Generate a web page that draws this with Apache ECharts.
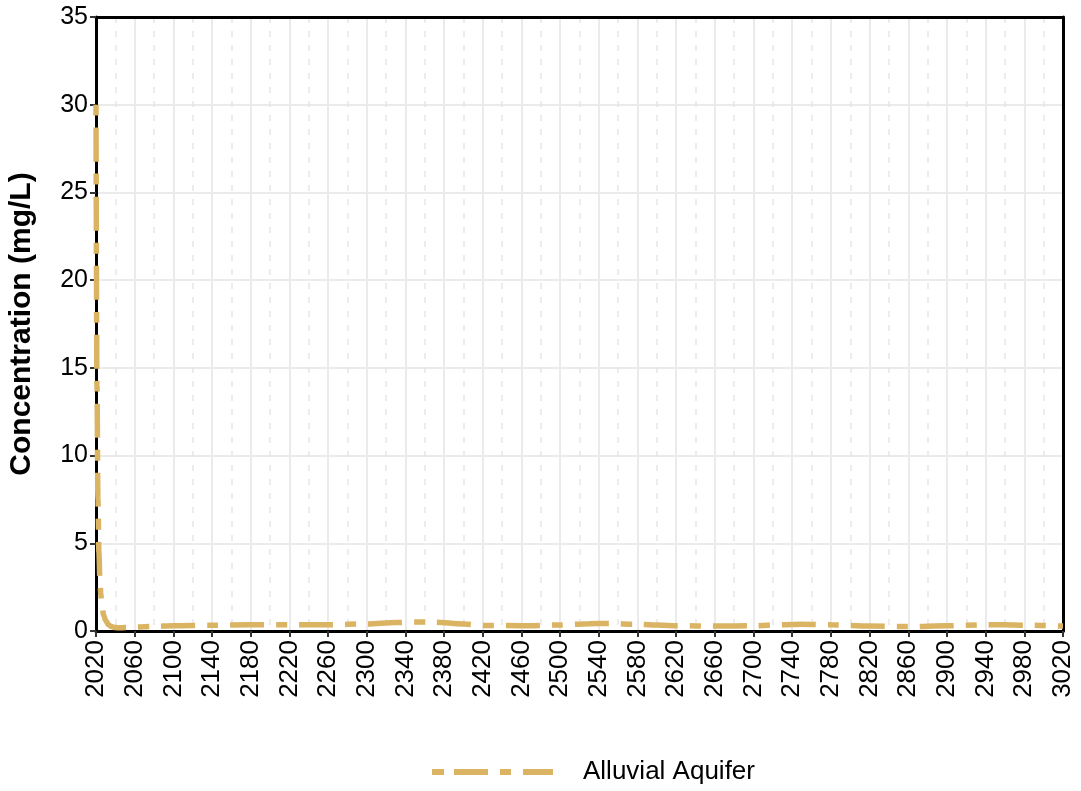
<!DOCTYPE html>
<html>
<head>
<meta charset="utf-8">
<script src="https://cdn.jsdelivr.net/npm/echarts@6/dist/echarts.min.js"></script>
<style>
html,body{margin:0;padding:0;background:#fff;}
#c{width:1081px;height:791px;}
</style>
</head>
<body>
<div id="c"></div>
<script>
const seriesName = 'Alluvial Aquifer';
const years = [2020, 2021, 2022, 2023, 2024, 2025, 2026, 2028, 2030, 2033, 2036, 2040, 2045, 2050, 2060, 2080, 2100, 2140, 2180, 2220, 2260, 2300, 2330, 2350, 2370, 2400, 2420, 2460, 2500, 2530, 2550, 2580, 2620, 2660, 2700, 2730, 2750, 2780, 2820, 2860, 2900, 2940, 2960, 2980, 3020];
const values = [30, 14, 7.5, 4.5, 3.0, 2.1, 1.5, 0.9, 0.6, 0.35, 0.25, 0.2, 0.18, 0.2, 0.22, 0.26, 0.3, 0.33, 0.35, 0.35, 0.36, 0.4, 0.48, 0.52, 0.5, 0.4, 0.32, 0.3, 0.34, 0.42, 0.43, 0.38, 0.3, 0.28, 0.3, 0.36, 0.38, 0.35, 0.28, 0.25, 0.3, 0.35, 0.36, 0.33, 0.28];
const yTitle = 'Concentration (mg/L)';

const font = 'Liberation Sans, Arial, Helvetica, sans-serif';
const lineColor = '#DAB463';
const frame = {show: true, onZero: false, lineStyle: {color: '#000', width: 3}};
const chart = echarts.init(document.getElementById('c'), null, {renderer: 'canvas'});
chart.setOption({
  animation: false,
  backgroundColor: '#ffffff',
  grid: {left: 96, right: 18, top: 17, bottom: 160, containLabel: false, outerBoundsMode: 'none'},
  legend: {
    left: 432, top: 759, padding: 0,
    itemWidth: 121, itemHeight: 6,
    data: [{name: seriesName, icon: 'path://M0 0H12V6H0Z M22 0H56V6H22Z M68 0H79V6H68Z M91 0H121V6H91Z'}],
    itemStyle: {color: lineColor},
    textStyle: {fontFamily: font, fontSize: 26, color: '#000', padding: [0, 0, 0, 25]}
  },
  xAxis: [{
    type: 'value', min: 2020, max: 3020, interval: 40,
    axisLine: frame,
    axisTick: {show: true, length: 6, lineStyle: {color: '#333', width: 2}},
    axisLabel: {rotate: 90, fontFamily: font, fontSize: 26, color: '#000', margin: 9, formatter: v => String(v)},
    splitLine: {show: true, lineStyle: {color: '#ebebeb', width: 2}},
    minorTick: {show: false, splitNumber: 2},
    minorSplitLine: {show: true, lineStyle: {color: '#e6e6e6', width: 1.5, type: [6, 8]}}
  }, {
    type: 'value', min: 2020, max: 3020, interval: 40, position: 'top',
    axisLine: frame, axisTick: {show: false}, axisLabel: {show: false}, splitLine: {show: false}
  }],
  yAxis: [{
    type: 'value', min: 0, max: 35, interval: 5,
    name: yTitle, nameLocation: 'middle', nameGap: 59,
    nameTextStyle: {fontFamily: font, fontSize: 30, fontWeight: 'bold', color: '#000'},
    axisLine: frame,
    axisTick: {show: true, length: 6, lineStyle: {color: '#333', width: 2}},
    axisLabel: {fontFamily: font, fontSize: 25, color: '#000', margin: 8},
    splitLine: {show: true, lineStyle: {color: '#ebebeb', width: 2}}
  }, {
    type: 'value', min: 0, max: 35, interval: 5, position: 'right',
    axisLine: frame, axisTick: {show: false}, axisLabel: {show: false}, splitLine: {show: false}
  }],
  series: [{
    name: seriesName,
    type: 'line',
    data: years.map((y, i) => [y, values[i]]),
    symbol: 'none',
    smooth: 0.3,
    smoothMonotone: 'x',
    color: lineColor,
    lineStyle: {color: lineColor, width: 5.5, type: [11, 12, 34, 12], cap: 'butt'}
  }]
});
</script>
</body>
</html>
